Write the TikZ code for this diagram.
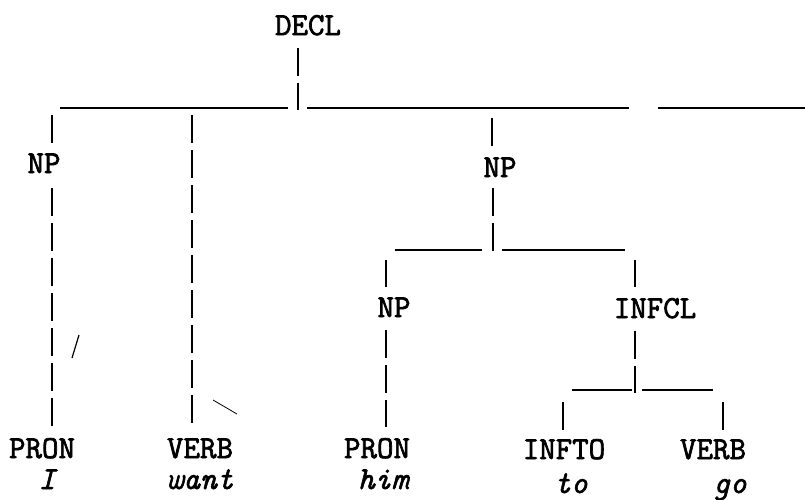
\documentclass[tikz,border=0pt]{standalone}
\usepackage{fontspec}
\newfontfamily\typefont[FakeBold=2.2]{Latin Modern Mono}
\newfontfamily\typeitfont[FakeBold=1.8,FakeSlant=0.0]{Latin Modern Mono}
\begin{document}
\begin{tikzpicture}[x=1pt,y=-1pt,
  lab/.style={font=\fontsize{32}{32}\selectfont\typefont, inner sep=0pt, anchor=base},
  word/.style={font=\fontsize{32}{32}\selectfont\typeitfont\itshape, inner sep=0pt, anchor=base},
  bar/.style={line width=2.4pt, dash pattern=on 28pt off 7pt},
  hline/.style={line width=2pt},
  speck/.style={line width=1.2pt}]
\useasboundingbox[fill=white] (0,0) rectangle (805,499);

% labels
\node[lab] (decl)  at (308,35)  {DECL};
\node[lab] (np1)   at (44,173)  {NP};
\node[lab] (np2)   at (500,177) {NP};
\node[lab] (np3)   at (394,317) {NP};
\node[lab] (infcl) at (655,318) {INFCL};
\node[lab] (pron1) at (42,458)  {PRON};
\node[lab] (verb1) at (200,458) {VERB};
\node[lab] (pron2) at (377,458) {PRON};
\node[lab] (infto) at (564,459) {INFTO};
\node[lab] (verb2) at (713,459) {VERB};
\node[word] (wI)    at (47,489)  {I};
\node[word] (wwant) at (200,489) {want};
\node[word] (whim)  at (383,489) {him};
\node[word] (wto)   at (571,493) {to};
\node[word] (wgo)   at (730,493) {go};

% junctions
\coordinate (jt) at (298,108);
\coordinate (jm) at (493,250);
\coordinate (jb) at (635,390);

% top level
\draw[bar] ([yshift=-12pt]decl.south -| jt) -- ([yshift=-2pt]jt);
\draw[hline] (60,108) -- (288,108) (307,108) -- (629,108) (658,108) -- (805,108);
\draw[bar] (52,115) -- (52,143);
\draw[bar] (52,188) -- (52,427);
\draw[bar] (192,115) -- (192,427);
\draw[bar] (492,118) -- (492,146);

% NP (him to go)
\draw[bar] ([yshift=-11pt]np2.south -| jm) -- ([yshift=-3pt]jm);
\draw[hline] (395,250) -- (482,250) (502,250) -- (625,250);
\draw[bar] (386,260) -- (386,287);
\draw[bar] (386,330) -- (386,427);
\draw[bar] (635,260) -- (635,287);

% INFCL
\draw[bar] ([yshift=-12pt]infcl.south -| jb) -- ([yshift=-3pt]jb);
\draw[hline] (572,390) -- (632,390) (642,390) -- (713,390);
\draw[bar] (563,402) -- (563,430);
\draw[bar] (723,402) -- (723,430);

% stray marks of the scan
\draw[speck] (72,358) -- (79,335);
\draw[line width=0.8pt] (213,400) -- (237,414);
\end{tikzpicture}
\end{document}
